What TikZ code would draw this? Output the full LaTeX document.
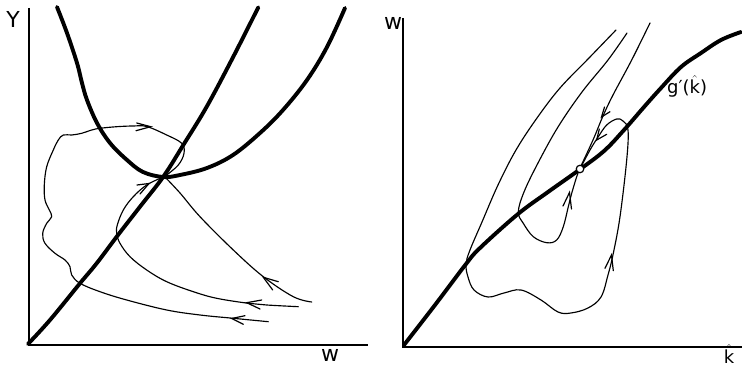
\documentclass[tikz,border=0pt]{standalone}
\usepackage{fontspec}
\setmainfont{DejaVu Sans}
\usepackage{tikz}
\begin{document}
\begin{tikzpicture}[x=1pt,y=-1pt,
  thickc/.style={line width=3.9pt, line cap=round, line join=round},
  thinc/.style={line width=1.15pt, line cap=round, line join=round},
  axisline/.style={line width=2pt},
  barb/.style={line width=1.2pt, line cap=round, line join=miter},
  lab/.style={font=\fontsize{22}{24}\selectfont, inner sep=0pt}]
\useasboundingbox (0,0) rectangle (742,366);

% ---------- left panel ----------
\draw[axisline] (29,8) -- (29,345) -- (368,345);
\node[lab] (Ylab) at (13,19) {Y};
\node[lab] (wlabL) at (330,355) {w};

% thick rising line
\draw[thickc] plot[smooth, tension=0.6] coordinates {(28,344) (50,320) (80,283.3) (96.7,263.3) (116.7,236.7) (140,206.7) (163.3,176.7) (183.3,145) (206.7,106.7) (233.3,56.7) (258.3,7.3)};
% thick U curve
\draw[thickc] plot[smooth, tension=0.6] coordinates {(57,7) (67,33) (77,63) (82,83) (87,100) (97,123) (110,143) (127,160) (143,172) (163,177) (180,175) (207,168) (233,155) (260,133) (283,110) (307,80) (327,47) (345,8)};

% lowest trajectory with wiggly loop
\draw[thinc] plot[smooth, tension=0.6] coordinates {(268.3,321.7) (233.3,318.3) (200,315) (166.7,310) (126.7,300) (100,291.7) (80,283.3) (71.7,275) (70,266.7) (65,260) (55,253.3) (45,243.3) (42.7,233.3) (46.7,223.3) (51.7,216.7) (49.3,210) (45,200) (44.3,185) (46.7,166.7) (53.3,150) (58.3,140) (63.3,135) (71.7,135) (81.7,133.3) (91.7,130) (100,128.3) (116.7,126.7) (133.3,126) (146.7,126.5) (166.7,135) (181.7,143.3) (184,153.3) (178.3,165) (166,175.5)};
% middle trajectory
\draw[thinc] plot[smooth, tension=0.6] coordinates {(298.3,306.7) (266.7,305) (248.3,303.3) (216.7,298.3) (193.3,291.7) (166.7,281.7) (146.7,270) (130,256.7) (120,243.3) (116.7,233.3) (117.3,225) (123.3,210) (133.3,196.7) (146.7,185) (163.3,177)};
% right trajectory
\draw[thinc] plot[smooth, tension=0.6] coordinates {(311.7,302) (293.3,296.7) (263.3,276.7) (233.3,250) (200,216.7) (180,193) (164,176)};

% arrowheads left
\draw[barb] (278.3,281.7) -- (263.3,277.3) -- (272.7,290);
\draw[barb] (261.7,300) -- (246.7,302.7) -- (260,309);
\draw[barb] (245,315.7) -- (231.7,318.5) -- (243.3,324.3);
\draw[barb] (136.7,123) -- (150.7,126.7) -- (136,130.7);
\draw[barb] (137,185) -- (149,183.5) -- (140,194);

% ---------- right panel ----------
\draw[axisline] (403.3,18) -- (403.3,347) -- (742,347);
\node[lab] (wlabR) at (393,23) {w};
\node[lab, font=\fontsize{18}{20}\selectfont] (klab) at (729,354) {$\hat{\hbox{k}}$};

\draw[thickc] plot[smooth, tension=0.6] coordinates {(404,345) (435,305) (466,264) (480,248) (518,214) (548,192) (579,170) (604,151) (624,130) (644,107) (661,88) (681,67) (701,53) (721,40) (741,32)};
\node[lab, font=\fontsize{18}{20}\selectfont, anchor=west] (glab) at (667,86) {g′($\hat{\hbox{k}}$)};

% outer trajectory with big loop
\draw[thinc] plot[smooth, tension=0.6] coordinates {(616,30) (589,58) (560,88) (537,118) (516,150) (498,185) (482,222) (470,250) (466,264) (468,277) (474,290) (488,297) (504,293) (521,290) (541,300) (558,312) (571,313) (588,308) (601,297) (608,275) (613.3,253.3) (620,216.7) (626.7,160) (628,130) (623,121) (616.7,119) (606.7,125) (598.3,136.7) (590,150) (581,167)};
% middle trajectory with small loop
\draw[thinc] plot[smooth, tension=0.6] coordinates {(627,33) (608,60) (582,92) (558,127) (538,163) (524,192) (518.3,212) (523.3,223.3) (533.3,236.7) (546.7,242.7) (556.7,240) (563.3,226.7) (568.3,206.7) (571.7,193.3) (576.7,176.7) (579.5,169.5)};
% stable arm
\draw[thinc] plot[smooth, tension=0.6] coordinates {(650,23) (631.7,60) (613,95) (603,116) (593,140) (580,168)};

% arrowheads right
\draw[barb] (604.5,107) -- (601.5,117) -- (610,111.7);
\draw[barb] (599.3,129) -- (596.7,140) -- (606.7,134.3);
\draw[barb] (563,206) -- (569.5,192.5) -- (571.5,209);
\draw[barb] (605,268.3) -- (611.5,255) -- (613.3,270.7);

\node[circle, draw, fill=white, minimum size=7.5pt, inner sep=0pt, line width=1.2pt] (eq) at (580,169) {};
\end{tikzpicture}
\end{document}
